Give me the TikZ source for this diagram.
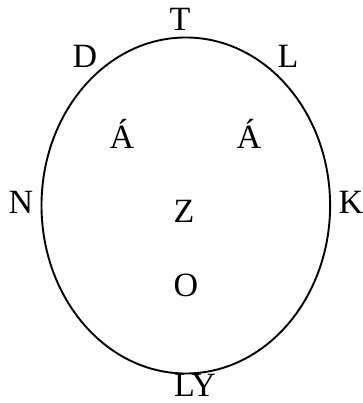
\documentclass[tikz,border=0pt]{standalone}
\usepackage{fontspec}
\setmainfont{Liberation Serif}
\newfontfamily\lblfont{Liberation Serif}
\usetikzlibrary{positioning}

\tikzset{
  lbl/.style={anchor=base, inner sep=0pt, font=\lblfont\fontsize{34}{40}\selectfont},
  outline/.style={black, line width=1.9pt}
}

\begin{document}
\begin{tikzpicture}[x=1pt, y=1pt]

% Canvas
\useasboundingbox (0,0) rectangle (362,403);

% Head outline
\draw[outline] (185.8,197.5) ellipse [x radius=144.3pt, y radius=168pt];

% Letters round the outline
\node[lbl] (top)    at (180,372) {T};
\node[lbl] (tl)     at (85,335)  {D};
\node[lbl] (tr)     at (288,335) {L};
\node[lbl] (left)   at (21,189)  {N};
\node[lbl] (right)  at (351,189) {K};
\node[lbl] (bottom) at (195,6)   {LY};

% Letters inside
\node[lbl] (eyel)  at (122,254) {Á};
\node[lbl] (eyer)  at (249,254) {Á};
\node[lbl] (nose)  at (184,180) {Z};
\node[lbl] (mouth) at (186,106) {O};

\end{tikzpicture}
\end{document}
